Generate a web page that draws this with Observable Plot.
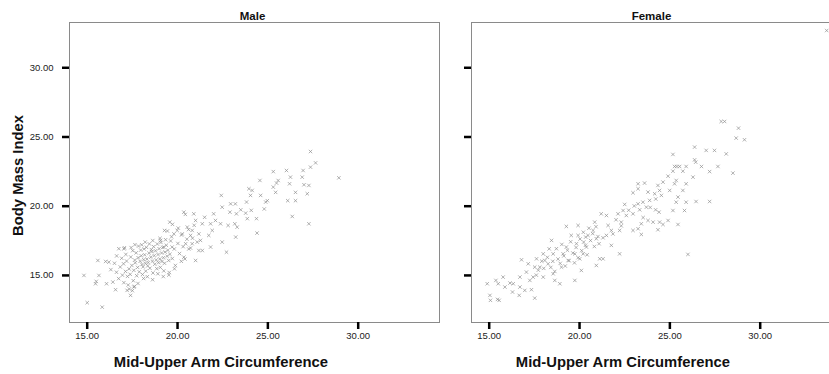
<!DOCTYPE html>
<html>
<head>
<meta charset="utf-8">
<script src="https://cdn.jsdelivr.net/npm/d3@7"></script>
<script src="https://cdn.jsdelivr.net/npm/@observablehq/plot@0.6"></script>
<style>
html, body { margin: 0; padding: 0; overflow: hidden; background: #fff; }
#wrap { display: flex; flex-direction: row; width: 900px; }
#wrap svg { display: block; font-family: "Liberation Sans", Arial, sans-serif; }
</style>
</head>
<body>
<div id="wrap"></div>
<script>
// ---- data ----
const panels = ["Male", "Female"];
const xTicks = [15, 20, 25, 30];
const yTicks = [15, 20, 25, 30];
const xTitle = "Mid-Upper Arm Circumference";
const yTitle = "Body Mass Index";

// [MUAC, BMI]
const malePoints = [
  [14.82,15.0],[15.0,13.03],[15.83,12.71],[15.59,16.08],[15.65,15.0],[15.46,14.4],[15.5,14.57],[16.07,14.4],
  [16.2,15.96],[16.75,16.93],[17.06,17.0],[16.57,13.97],[17.4,13.56],[17.58,14.16],[17.5,13.9],
  [27.36,23.95],[27.64,23.13],[27.36,22.82],[26.95,22.58],[28.93,22.05],[26.03,22.58],[25.3,22.5],[24.56,21.86],
  [25.57,21.86],[25.48,21.67],[26.25,22.1],[26.2,21.62],[26.9,22.1],[27.0,21.55],[27.27,21.5],[27.18,20.9],
  [26.53,21.0],[26.53,20.4],[26.1,20.4],[26.35,19.26],[27.27,18.73],[25.3,21.38],[25.43,21.0],[24.88,20.3],
  [24.97,20.4],[24.8,19.8],[24.37,19.1],[24.4,18.06],[23.95,21.26],[24.13,21.14],[24.04,20.78],[24.6,20.78],
  [23.82,20.3],[24.08,19.7],[23.77,19.5],[23.86,19.1],[23.5,19.74],[23.2,20.17],[23.26,19.45],[23.17,18.73],
  [23.3,18.49],[23.22,17.77],[22.94,20.17],[22.9,19.57],[22.8,18.61],[22.42,20.78],[22.47,19.93],[22.38,18.73],
  [22.47,17.41],[22.71,16.68],[22.0,19.45],[22.1,18.97],[21.83,18.73],[21.92,18.25],[21.73,17.89],[21.83,17.05],
  [21.5,19.2],[21.37,18.73],[21.18,18.0],[21.27,17.53],[21.37,16.8],[20.9,19.45],[21.0,18.97],[20.81,18.25],
  [20.72,17.89],[20.81,17.29],[21.09,17.41],[21.18,16.8],[20.35,19.57],[20.54,18.49],[20.45,17.29],[20.35,16.32],
  [20.26,18.0],[21.0,16.08],[19.8,18.0],[19.7,17.05],[19.83,15.48],[19.98,18.25],[19.57,18.85],[19.28,18.25],
  [19.06,17.53],[19.24,17.05],
  [16.62,15.23],[16.74,14.77],[16.83,15.61],[16.91,16.24],[16.95,15.02],[17.03,14.48],[17.01,15.84],[17.14,16.52],
  [17.12,15.29],[17.23,14.93],[17.18,16.04],[17.32,15.47],[17.27,14.31],[17.41,16.33],[17.38,15.08],[17.52,16.79],
  [17.47,15.72],[17.55,14.62],[17.63,16.11],[17.58,15.37],[17.71,16.63],[17.66,15.91],[17.74,14.98],[17.82,16.28],
  [17.79,15.58],[17.84,17.12],[17.93,16.02],[17.88,15.26],[17.96,16.83],[18.03,15.79],[17.99,16.42],[18.06,15.07],
  [18.02,17.21],[18.13,16.14],[18.09,15.62],[18.15,16.91],[18.22,15.88],[18.18,16.49],[18.24,15.31],[18.31,16.18],
  [18.28,17.03],[18.35,15.69],[18.42,16.61],[18.38,15.93],[18.44,17.28],[18.52,16.32],[18.47,15.52],[18.55,16.87],
  [18.61,16.03],[18.58,16.72],[18.64,15.18],[18.71,16.43],[18.68,17.08],[18.74,15.81],[18.82,16.12],[18.78,16.78],
  [18.85,15.49],[18.92,16.51],[18.88,17.27],[18.95,15.92],[19.02,16.19],[18.98,16.93],[19.05,15.58],[19.12,16.62],
  [19.08,17.38],[19.14,16.01],[19.22,16.28],[19.18,17.02],[19.24,15.33],[19.31,16.69],[19.28,15.88],[19.34,17.58],
  [19.42,16.39],[19.38,17.18],[19.51,16.08],[19.47,16.82],[19.54,15.21],[19.62,17.49],[19.58,16.53],[19.71,16.22],
  [19.67,17.79],[19.82,16.91],[19.88,15.72],[20.02,17.31],[20.11,16.58],[20.22,17.92],[20.31,17.08],[20.41,16.19],
  [20.52,17.62],[20.61,18.31],[20.72,16.98],[20.83,17.69],[20.92,18.62],
  [16.02,16.01],[16.31,15.42],[16.42,14.52],[16.51,15.88],[16.63,16.41],[17.04,16.92],[17.21,13.92],[17.33,14.02],
  [17.62,14.21],[17.81,14.42],[18.12,14.78],[18.33,14.91],[18.62,14.69],[18.91,15.12],[19.21,14.92],[19.52,15.03],
  [17.43,17.01],[17.64,17.22],[18.21,17.41],[18.63,17.52],[19.03,17.68],[19.44,18.21],[19.72,18.69],[20.04,18.42],
  [20.21,16.02],[20.43,19.41],[20.62,16.91]
];

const femalePoints = [
  [33.68,32.69],[27.84,26.12],[28.03,26.12],[28.8,25.64],[28.67,24.92],[29.13,24.8],[26.37,24.27],[25.17,23.74],
  [27.01,24.03],[27.47,24.03],[28.12,23.78],[26.37,23.35],[26.43,23.18],[26.75,22.87],[27.66,22.87],[27.2,22.5],
  [28.49,22.39],[25.26,22.87],[25.39,22.87],[25.54,22.87],[25.9,22.87],[25.72,22.53],[25.17,22.53],[24.9,22.17],
  [26.28,22.1],[25.9,21.62],[25.35,21.86],[25.26,21.62],[24.99,21.14],[25.72,21.14],[25.45,20.66],[25.9,20.29],
  [26.45,20.34],[27.2,20.34],[25.35,20.29],[25.17,19.69],[25.81,19.69],[24.9,18.97],[25.45,18.68],[26.0,16.52],
  [24.62,21.74],[24.34,21.5],[24.43,21.14],[24.16,20.9],[24.53,20.78],[23.79,21.02],[23.6,21.67],[23.24,21.62],
  [22.96,20.97],[23.24,21.26],[23.88,20.42],[23.51,20.29],[23.24,20.17],[23.7,19.93],[23.33,19.74],[22.96,19.45],
  [22.5,20.13],[22.41,19.69],[22.13,19.45],[22.59,19.33],[24.21,19.74],[24.4,19.57],[24.07,18.85],[24.43,18.85],
  [24.62,18.68],[24.34,18.3],[23.79,18.97],[23.42,18.73],[23.24,18.37],[23.42,17.96],[22.96,18.25],[22.22,18.25],
  [22.31,18.85],[21.85,18.0],[21.58,18.61],[21.49,19.33],[21.2,19.45],[21.76,18.25],[21.49,17.89],[21.3,17.72],
  [21.76,17.17],[22.22,16.56],[20.84,18.85],[20.75,18.25],[20.47,17.89],[20.93,17.65],[21.08,17.29],[21.12,16.2],
  [21.3,16.2],[20.93,15.72],[20.34,17.77],[20.23,17.41],[20.38,17.05],[20.2,16.56],[19.92,18.61],[19.27,18.54],
  [19.54,17.89],[19.92,17.89],[19.83,17.29],[19.74,16.56],[20.01,16.2],[20.1,15.36],[19.74,14.64],[19.27,17.05],
  [19.09,16.56],[19.37,16.08],[19.0,15.6],[18.91,14.4],[18.45,17.53],[18.54,16.56],[18.26,15.84],[18.54,15.12],
  [18.63,14.64],[17.99,16.56],[18.08,16.08],[17.8,15.6],[17.99,14.88],[17.62,16.2],[17.52,15.6],[17.43,14.88],
  [17.25,14.64],[17.16,15.84],[17.06,15.24],[16.79,16.13],[16.7,14.88],[16.7,14.16],[16.66,13.56],[16.97,13.92],
  [17.52,13.36],[17.34,13.97],[16.33,14.4],[16.15,14.45],[16.29,13.8],[15.87,14.16],[15.77,14.88],[15.5,14.4],
  [15.37,14.64],[14.89,14.4],[15.04,13.56],[15.07,13.2],[15.46,13.27],[15.55,13.2],
  [18.72,16.93],[18.81,16.18],[18.93,15.87],[19.02,17.24],[19.13,16.41],[19.21,15.68],[19.33,16.82],[19.42,16.07],
  [19.51,17.43],[19.63,16.62],[19.72,15.91],[19.81,17.02],[19.92,16.28],[20.03,17.63],[20.12,16.79],[20.21,18.12],
  [20.33,17.18],[20.42,16.49],[20.52,18.41],[20.61,17.52],[20.73,18.02],[20.82,17.09],[20.91,18.52],[21.02,17.81],
  [18.22,16.31],[18.41,15.58],[18.52,16.02],[18.63,15.29],[18.02,15.51],[17.91,16.03],[17.72,15.38],[17.61,15.02],
  [18.32,16.92],[22.02,19.02],[22.31,18.58],[22.72,19.71],[23.03,20.02],[23.52,19.18],[23.91,19.91],[24.22,20.52]
];

// ---- drawing ----
const fmt = d => d.toFixed(2);
const xDomain = [14.02, 34.5];
const yDomain = [11.6, 33.27];
const font = '"Liberation Sans", Arial, sans-serif';

function panel(name, points, first) {
  const marginLeft = first ? 69 : 31;
  const width = marginLeft + (first ? 371 : 370);
  return Plot.plot({
    width, height: 374,
    marginLeft, marginRight: first ? 1 : 0, marginTop: 22, marginBottom: 52,
    style: { fontFamily: font, background: "white", overflow: "visible" },
    x: { domain: xDomain },
    y: { domain: yDomain },
    marks: [
      Plot.frame({ stroke: "#8a8a8a", strokeWidth: 1 }),
      Plot.axisX({ ticks: xTicks, tickFormat: fmt, tickSize: 7, tickPadding: 3, stroke: "black",
                   strokeWidth: 2.5, fontSize: 9.5, fill: "#222", label: null }),
      Plot.axisY({ ticks: yTicks, tickFormat: first ? fmt : () => "", tickSize: 7, tickPadding: 9,
                   stroke: "black", strokeWidth: 2.5, fontSize: 9.5, fill: "#222", label: null }),
      Plot.dot(points, { x: d => d[0], y: d => d[1], symbol: "times", r: 1.7,
                         stroke: "#8c8c8c", strokeWidth: 0.8, strokeOpacity: 0.85 }),
      Plot.text([name], { frameAnchor: "top", lineAnchor: "bottom", dy: -3, dx: first ? -2 : -5, text: d => d,
                          fontWeight: "bold", fontSize: 11.5, fill: "#111" }),
      Plot.text([xTitle], { x: 22.4, frameAnchor: "bottom", lineAnchor: "middle", dy: 40, text: d => d,
                            fontWeight: "bold", fontSize: 14.8, fill: "#111" }),
      ...(first ? [Plot.text([yTitle], { frameAnchor: "left", textAnchor: "middle", lineAnchor: "middle",
                            dx: -51, dy: 3, rotate: -90, text: d => d,
                            fontWeight: "bold", fontSize: 14.8, fill: "#111" })] : [])
    ]
  });
}

const wrap = document.getElementById("wrap");
wrap.appendChild(panel(panels[0], malePoints, true));
wrap.appendChild(panel(panels[1], femalePoints, false));
</script>
</body>
</html>
